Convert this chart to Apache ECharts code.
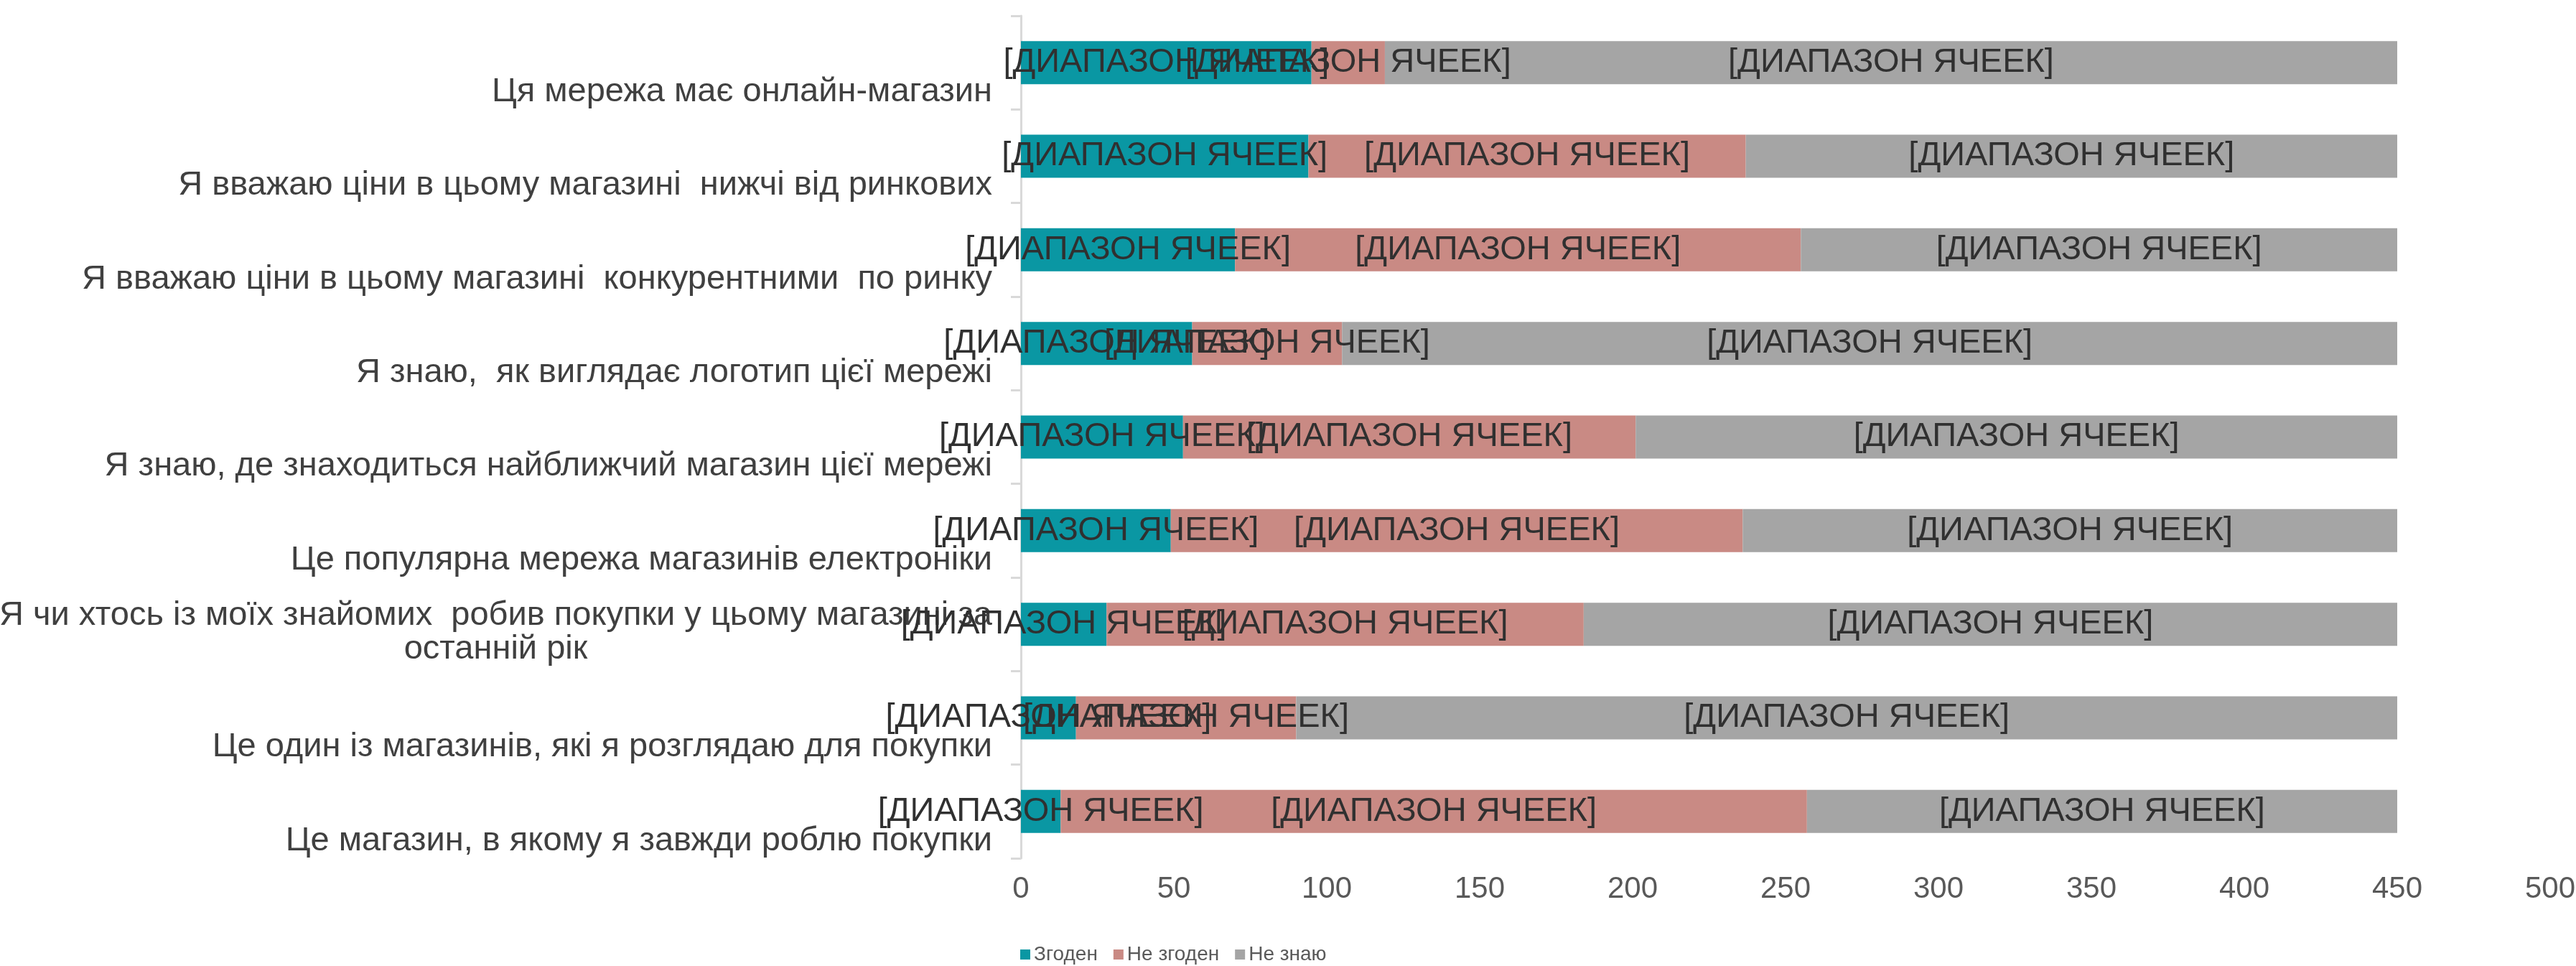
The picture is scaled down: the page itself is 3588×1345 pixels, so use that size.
<!DOCTYPE html>
<html>
<head>
<meta charset="utf-8">
<title>Ставлення до мережі магазинів</title>
<script src="https://cdn.jsdelivr.net/npm/echarts@6/dist/echarts.min.js"></script>
<style>
  html, body { margin: 0; padding: 0; background: #ffffff; }
  #chart { width: 3588px; height: 1345px; }
</style>
</head>
<body>
<div id="chart"></div>
<script>
// Survey statements, top to bottom
const categories = [
  'Ця мережа має онлайн-магазин',
  'Я вважаю ціни в цьому магазині  нижчі від ринкових',
  'Я вважаю ціни в цьому магазині  конкурентними  по ринку',
  'Я знаю,  як виглядає логотип цієї мережі',
  'Я знаю, де знаходиться найближчий магазин цієї мережі',
  'Це популярна мережа магазинів електроніки',
  'Я чи хтось із моїх знайомих  робив покупки у цьому магазині за\nостанній рік',
  'Це один із магазинів, які я розглядаю для покупки',
  'Це магазин, в якому я завжди роблю покупки'
];

const seriesNames = ['Згоден', 'Не згоден', 'Не знаю'];

// Number of answers per statement
const agreeValues    = [95, 94, 70, 56, 53, 49, 28, 18, 13];
const disagreeValues = [24, 143, 185, 49, 148, 187, 156, 72, 244];
const unsureValues   = [331, 213, 195, 345, 249, 214, 266, 360, 193];

const xTicks = [0, 50, 100, 150, 200, 250, 300, 350, 400, 450, 500];

const cellLabelText = '[ДИАПАЗОН ЯЧЕЕК]';

const FONT = '"Liberation Sans", Arial, sans-serif';
const CAT_SIZE = 47;
const colors = ['#0a97a3', '#c98a84', '#a5a5a5'];

// width of the widest line of a wrapped category label, for centring its lines
const measureCtx = document.createElement('canvas').getContext('2d');
measureCtx.font = CAT_SIZE + 'px ' + FONT;
function lineWidth(s) { return Math.ceil(measureCtx.measureText(s).width); }

const chart = echarts.init(document.getElementById('chart'), null, { renderer: 'canvas' });

function barSeries(name, values, color) {
  return {
    name: name,
    type: 'bar',
    stack: 'total',
    data: values,
    barWidth: '46%',
    itemStyle: { color: color },
    label: {
      show: true,
      position: 'inside',
      formatter: cellLabelText,
      fontFamily: FONT,
      fontSize: 47,
      color: '#303030'
    },
    emphasis: { disabled: true }
  };
}

const catRich = {
  one: { fontFamily: FONT, fontSize: CAT_SIZE, color: '#404040', padding: [82, 0, 0, 0] }
};
categories.forEach(function (c) {
  const lines = c.split('\n');
  if (lines.length > 1) {
    const w = Math.max.apply(null, lines.map(lineWidth));
    catRich['first' + w] = { fontFamily: FONT, fontSize: CAT_SIZE, color: '#404040', width: w, align: 'center', padding: [22, 0, 0, 0] };
    catRich['rest' + w] = { fontFamily: FONT, fontSize: CAT_SIZE, color: '#404040', width: w, align: 'center' };
  }
});

chart.setOption({
  animation: false,
  backgroundColor: '#ffffff',
  grid: { left: 1422, right: 36, top: 22, bottom: 150, containLabel: false, outerBoundsMode: 'none' },
  legend: {
    data: seriesNames,
    left: 1416,
    top: 1310,
    icon: 'rect',
    itemWidth: 14,
    itemHeight: 14,
    itemGap: 22,
    textStyle: { fontFamily: FONT, fontSize: 28, color: '#595959' }
  },
  xAxis: {
    type: 'value',
    min: xTicks[0],
    max: xTicks[xTicks.length - 1],
    interval: xTicks[1] - xTicks[0],
    axisLine: { show: false },
    axisTick: { show: false },
    splitLine: { show: false },
    axisLabel: {
      margin: 22,
      fontFamily: FONT,
      fontSize: 42,
      color: '#595959'
    }
  },
  yAxis: {
    type: 'category',
    inverse: true,
    data: categories,
    axisLine: { show: true, lineStyle: { color: '#d9d9d9', width: 3 } },
    axisTick: { show: true, length: 14, lineStyle: { color: '#d9d9d9', width: 3 } },
    axisLabel: {
      margin: 40,
      fontFamily: FONT,
      fontSize: CAT_SIZE,
      color: '#404040',
      formatter: function (value) {
        const lines = value.split('\n');
        if (lines.length === 1) {
          return '{one|' + value + '}';
        }
        const w = Math.max.apply(null, lines.map(lineWidth));
        return lines.map(function (l, i) {
          return '{' + (i === 0 ? 'first' : 'rest') + w + '|' + l + '}';
        }).join('\n');
      },
      rich: catRich
    }
  },
  series: [
    barSeries(seriesNames[0], agreeValues, colors[0]),
    barSeries(seriesNames[1], disagreeValues, colors[1]),
    barSeries(seriesNames[2], unsureValues, colors[2])
  ]
});
</script>
</body>
</html>
